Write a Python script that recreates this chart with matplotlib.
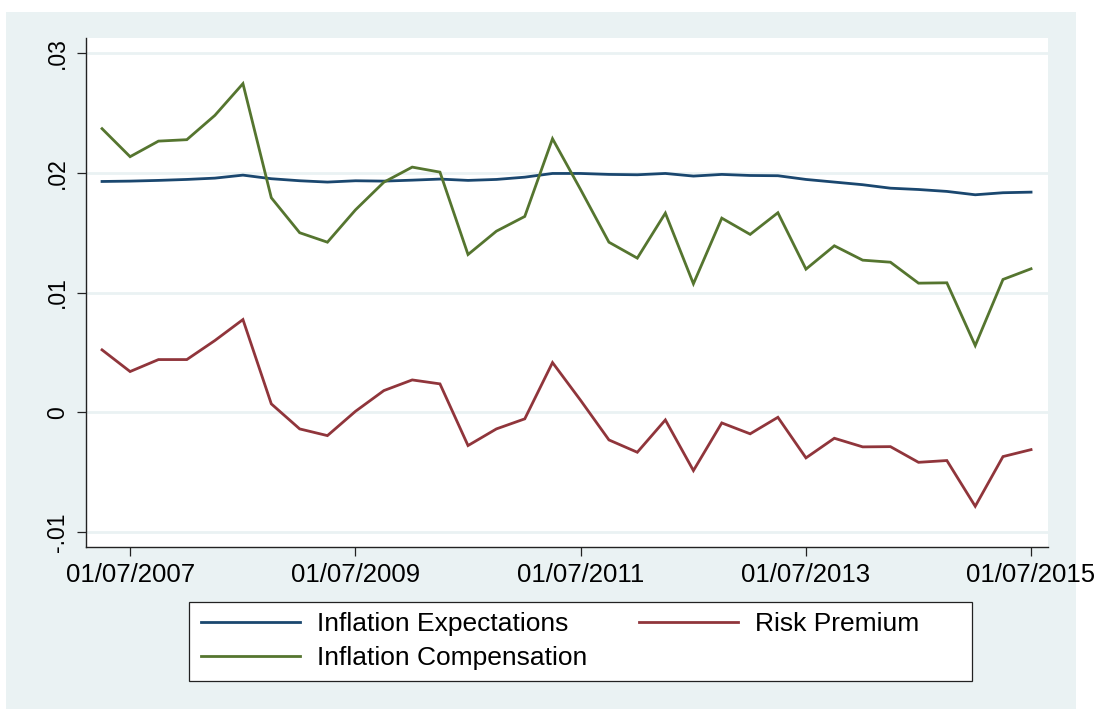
import matplotlib

matplotlib.use("Agg")
import matplotlib.pyplot as plt
import matplotlib.dates as mdates
import matplotlib.patches as mpatches
import pandas as pd

plt.rcParams["font.family"] = ["Liberation Sans", "DejaVu Sans"]

# quarterly observations, 01/04/2007 .. 01/07/2015
dates = pd.date_range("2007-04-01", periods=34, freq="QS")

expectations = [
    0.01927, 0.01930, 0.01936, 0.01944, 0.01955, 0.01980, 0.01950, 0.01933,
    0.01922, 0.01933, 0.01930, 0.01938, 0.01947, 0.01936, 0.01944, 0.01963,
    0.01994, 0.01994, 0.01986, 0.01983, 0.01994, 0.01972, 0.01986, 0.01977,
    0.01975, 0.01944, 0.01922, 0.01900, 0.01871, 0.01860, 0.01844, 0.01816,
    0.01833, 0.01838,
]
risk_premium = [
    0.00521, 0.00340, 0.00440, 0.00440, 0.00599, 0.00774, 0.00070, -0.00139,
    -0.00195, 0.00008, 0.00181, 0.00270, 0.00237, -0.00278, -0.00139, -0.00055,
    0.00415, 0.00100, -0.00231, -0.00334, -0.00064, -0.00487, -0.00089, -0.00180,
    -0.00042, -0.00381, -0.00217, -0.00289, -0.00287, -0.00418, -0.00403, -0.00785,
    -0.00370, -0.00312,
]
compensation = [
    0.02368, 0.02134, 0.02264, 0.02276, 0.02479, 0.02744, 0.01791, 0.01499,
    0.01420, 0.01690, 0.01921, 0.02047, 0.02005, 0.01317, 0.01512, 0.01635,
    0.02284, 0.01860, 0.01420, 0.01287, 0.01663, 0.01073, 0.01621, 0.01485,
    0.01666, 0.01195, 0.01390, 0.01270, 0.01253, 0.01078, 0.01081, 0.00557,
    0.01109, 0.01198,
]

series_names = ["Inflation Expectations", "Risk Premium", "Inflation Compensation"]
series_colors = ["#1a476f", "#90353b", "#55752f"]

y_ticks = [-0.01, 0, 0.01, 0.02, 0.03]
y_tick_labels = ["-.01", "0", ".01", ".02", ".03"]
x_tick_dates = ["2007-07-01", "2009-07-01", "2011-07-01", "2013-07-01", "2015-07-01"]

W, H = 1101, 709
BG = "#eaf2f3"

fig = plt.figure(figsize=(W / 100, H / 100), dpi=100, facecolor="white")

# graph region (light blue-gray panel)
fig.patches.append(mpatches.Rectangle((6 / W, 0), (1076 - 6) / W, (H - 12) / H,
                                      transform=fig.transFigure, facecolor=BG,
                                      edgecolor="none", zorder=-10))

ax = fig.add_axes([86 / W, 1 - 547 / H, (1048 - 86) / W, (547 - 38) / H])
ax.set_facecolor("white")

lines = []
for vals, name, col in zip([expectations, risk_premium, compensation], series_names, series_colors):
    ln, = ax.plot(dates, vals, color=col, lw=2.0, label=name, solid_joinstyle="miter")
    lines.append(ln)

ax.set_ylim(-0.01125, 0.03125)
ax.set_xlim(pd.Timestamp("2007-02-08"), pd.Timestamp("2015-08-25"))

ax.set_yticks(y_ticks)
ax.set_yticklabels(y_tick_labels, rotation=90, va="center", fontsize=16.5)
ax.set_xticks([pd.Timestamp(d) for d in x_tick_dates])
ax.xaxis.set_major_formatter(mdates.DateFormatter("%d/%m/%Y"))
for lab in ax.get_xticklabels():
    lab.set_fontsize(18.5)

ax.grid(axis="y", color=BG, lw=2.0)
ax.set_axisbelow(True)
for side in ("top", "right"):
    ax.spines[side].set_visible(False)
for side in ("left", "bottom"):
    ax.spines[side].set_color("#222222")
    ax.spines[side].set_linewidth(1.0)
ax.tick_params(axis="both", direction="out", length=6.5, width=0.9, color="#222222")
ax.tick_params(axis="y", pad=6)
ax.tick_params(axis="x", pad=5)

# legend box
fig.patches.append(mpatches.Rectangle((189 / W, 1 - 681 / H), (972 - 189) / W, (681 - 602) / H,
                                      transform=fig.transFigure, facecolor="white",
                                      edgecolor="#222222", lw=0.9, zorder=1))
order = [0, 2, 1]
fig.legend([lines[i] for i in order], [series_names[i] for i in order],
           ncol=2, loc="upper left", bbox_to_anchor=(201 / W, 1 - 612 / H),
           frameon=False, fontsize=19, handlelength=3.75, handletextpad=0.64,
           columnspacing=1.98, labelspacing=0.38, borderpad=0, borderaxespad=0)

fig.savefig("out.png", dpi=100, facecolor="white")
